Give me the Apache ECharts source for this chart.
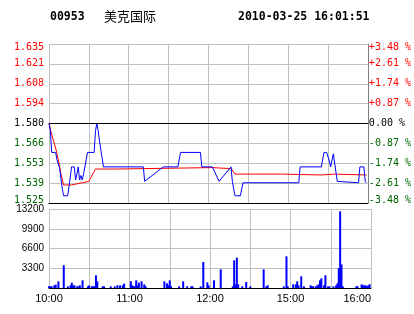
<!DOCTYPE html>
<html>
<head>
<meta charset="utf-8">
<script src="https://cdn.jsdelivr.net/npm/echarts@6/dist/echarts.min.js"></script>
<style>
  html, body { margin: 0; padding: 0; background: #fff; }
  #chart { width: 414px; height: 314px; }
</style>
</head>
<body>
<div id="chart"></div>
<script>
// 分时图 00953 美克国际
const stockCode = '00953'
const stockName = '美克国际'
const quoteTime = '2010-03-25 16:01:51'
const prevClose = 1.580

// 刻度标签，自下而上
const priceTicks = ['1.525', '1.539', '1.553', '1.566', '1.580', '1.594', '1.608', '1.621', '1.635']
const pctTicks = ['-3.48 %', '-2.61 %', '-1.74 %', '-0.87 %', '0.00 %', '+0.87 %', '+1.74 %', '+2.61 %', '+3.48 %']
const timeLabels = { 0: '10:00', 60: '11:00', 120: '12:00', 180: '15:00', 240: '16:00' }

// 分钟序号：0 = 10:00，150 = 12:30 / 14:30，240 = 16:00
const priceLine = [
  [0, 1.580], [1, 1.575], [2, 1.560], [5, 1.560], [6, 1.555], [8, 1.549], [9, 1.542],
  [10, 1.535], [11, 1.530], [14, 1.530], [15, 1.536], [17, 1.550], [19, 1.550], [20, 1.541],
  [21, 1.545], [22, 1.550], [23, 1.541], [24, 1.544], [25, 1.541], [26, 1.545], [28, 1.555],
  [29, 1.560], [34, 1.560], [35, 1.575], [36, 1.580], [37, 1.575], [38, 1.568], [39, 1.562],
  [40, 1.556], [41, 1.550], [71, 1.550], [72, 1.540], [86, 1.550], [97, 1.550], [99, 1.560],
  [114, 1.560], [115, 1.550], [123, 1.550], [128, 1.540], [137, 1.550], [138, 1.540],
  [140, 1.530], [144, 1.530], [146, 1.539], [188, 1.539], [189, 1.550], [205, 1.550],
  [207, 1.560], [209, 1.560], [211, 1.554], [212, 1.550], [214, 1.559], [215, 1.559],
  [217, 1.540], [218, 1.539], [233, 1.539], [234, 1.550], [237, 1.550], [238, 1.540], [239, 1.539],
]

const avgLine = [
  [0, 1.580], [2, 1.5725], [5, 1.563], [7, 1.555], [9, 1.545], [11, 1.5375], [17, 1.5375],
  [25, 1.539], [30, 1.540], [35, 1.5485], [50, 1.5485], [51, 1.5495], [123, 1.5495],
  [124, 1.5488], [137, 1.5488], [140, 1.545], [175, 1.545], [176, 1.5444], [205, 1.5444],
  [206, 1.545], [215, 1.545], [216, 1.5444], [239, 1.5444],
]

const volumes = [
  [0, 280], [1, 280], [2, 280], [4, 445], [5, 557], [7, 1114], [11, 3788], [14, 280],
  [16, 445], [17, 890], [18, 445], [19, 445], [21, 280], [22, 280], [23, 445], [25, 1280],
  [29, 280], [30, 445], [32, 280], [33, 280], [34, 280], [35, 2116], [36, 1114], [40, 280],
  [41, 280], [46, 280], [49, 280], [51, 445], [53, 445], [55, 445], [56, 724], [61, 1114],
  [62, 445], [63, 280], [64, 280], [65, 1280], [66, 445], [67, 890], [69, 1114], [71, 613],
  [72, 280], [86, 1114], [88, 780], [89, 445], [90, 1280], [91, 280], [97, 280], [100, 1114],
  [103, 280], [106, 280], [107, 280], [113, 280], [115, 4340], [118, 947], [119, 445],
  [123, 1280], [128, 3118], [137, 280], [138, 4620], [139, 613], [140, 5070], [141, 613],
  [144, 280], [147, 1000], [150, 280], [160, 3118], [162, 280], [163, 445], [175, 280],
  [177, 5290], [178, 280], [182, 613], [184, 613], [185, 1114], [186, 445], [188, 1950],
  [190, 280], [195, 445], [196, 280], [197, 280], [199, 280], [200, 445], [201, 613],
  [202, 1280], [203, 1615], [205, 445], [206, 2116], [208, 280], [209, 280], [212, 280],
  [214, 445], [215, 780], [216, 3340], [217, 12800], [218, 3950], [219, 280], [229, 280],
  [230, 280], [233, 613], [234, 445], [235, 445], [236, 445], [237, 280], [238, 445], [239, 613],
]

// 价格换算为相对昨收的万分比，坐标轴用整数刻度
const toBp = p => (p - prevClose) / prevClose * 10000
const tickIndex = v => Math.round(v / 87) + 4

function tickColor (v) {
  if (v > 0) return '#ff0000'
  if (v < 0) return '#006400'
  return '#000000'
}

function edgeLabel (text, v) {
  const i = tickIndex(v)
  if (i === 8) return '{top|' + text + '}'
  if (i === 0) return '{bot|' + text + '}'
  return text
}

const edgeRich = {
  top: { padding: [6, 0, 0, 0] },
  bot: { padding: [0, 0, 6, 0] },
}

const gridGray = '#c0c0c0'
const mono = '"DejaVu Sans Mono", monospace'
const sans = '"Liberation Sans", Arial, sans-serif'

const chart = echarts.init(document.getElementById('chart'))

chart.setOption({
  animation: false,
  backgroundColor: '#fff',
  graphic: [
    { type: 'text', x: 50, y: 17, style: { text: stockCode, font: 'bold 11.5px ' + mono, fill: '#000', verticalAlign: 'middle' } },
    { type: 'text', x: 104, y: 16, style: { text: stockName, font: '13px "Noto Sans CJK SC"', fill: '#000', verticalAlign: 'middle' } },
    { type: 'text', x: 238, y: 17, style: { text: quoteTime, font: 'bold 11.5px ' + mono, fill: '#000', verticalAlign: 'middle' } },
  ],
  grid: [
    { left: 49, top: 44, width: 322, height: 159 },
    { left: 49, top: 209, width: 322, height: 79 },
  ],
  xAxis: [
    {
      type: 'value',
      gridIndex: 0,
      min: 0,
      max: 240,
      interval: 30,
      axisLine: { onZero: false, lineStyle: { color: '#000', width: 1 } },
      axisTick: { show: false },
      axisLabel: { show: false },
      splitLine: { lineStyle: { color: gridGray, width: 1 } },
    },
    {
      type: 'value',
      gridIndex: 1,
      min: 0,
      max: 240,
      interval: 30,
      axisLine: { onZero: false, lineStyle: { color: '#000', width: 1 } },
      axisTick: { show: false },
      axisLabel: {
        margin: 5,
        fontFamily: sans,
        fontSize: 11,
        color: '#000',
        showMinLabel: true,
        showMaxLabel: true,
        alignMaxLabel: 'right',
        formatter: v => timeLabels[v] || '',
      },
      splitLine: { lineStyle: { color: gridGray, width: 1 } },
    },
  ],
  yAxis: [
    {
      type: 'value',
      gridIndex: 0,
      position: 'left',
      min: -348,
      max: 348,
      interval: 87,
      axisLine: { show: false },
      axisTick: { show: false },
      axisLabel: {
        margin: 5,
        fontFamily: mono,
        fontSize: 10,
        color: tickColor,
        formatter: v => edgeLabel(priceTicks[tickIndex(v)], v),
        rich: edgeRich,
      },
      splitLine: { lineStyle: { color: gridGray, width: 1 } },
    },
    {
      type: 'value',
      gridIndex: 0,
      position: 'right',
      min: -348,
      max: 348,
      interval: 87,
      axisLine: { show: true, lineStyle: { color: '#808080', width: 1 } },
      axisTick: { show: false },
      axisLabel: {
        margin: 1,
        fontFamily: mono,
        fontSize: 10,
        color: tickColor,
        formatter: v => edgeLabel(pctTicks[tickIndex(v)], v),
        rich: edgeRich,
      },
      splitLine: { show: false },
    },
    {
      type: 'value',
      gridIndex: 1,
      min: 0,
      max: 13200,
      interval: 3300,
      axisLine: { show: false },
      axisTick: { show: false },
      axisLabel: {
        margin: 5,
        fontFamily: sans,
        fontSize: 10,
        color: '#000',
        padding: [6, 0, 0, 0],
        formatter: v => (v === 0 ? '' : String(v)),
      },
      splitLine: { lineStyle: { color: gridGray, width: 1 } },
    },
  ],
  series: [
    {
      name: '均价',
      type: 'line',
      xAxisIndex: 0,
      yAxisIndex: 0,
      data: avgLine.map(([t, p]) => [t, toBp(p)]),
      symbol: 'none',
      z: 3,
      lineStyle: { color: '#ff0000', width: 1 },
      markLine: {
        silent: true,
        symbol: 'none',
        label: { show: false },
        lineStyle: { color: '#000', type: 'solid', width: 1 },
        data: [{ yAxis: 0 }],
      },
    },
    {
      name: '价格',
      type: 'line',
      xAxisIndex: 0,
      yAxisIndex: 0,
      data: priceLine.map(([t, p]) => [t, toBp(p)]),
      symbol: 'none',
      z: 4,
      lineStyle: { color: '#0000ff', width: 1 },
    },
    {
      name: '成交量',
      type: 'bar',
      xAxisIndex: 1,
      yAxisIndex: 2,
      data: volumes,
      barWidth: 2,
      itemStyle: { color: '#0000ff' },
    },
  ],
})
</script>
</body>
</html>
